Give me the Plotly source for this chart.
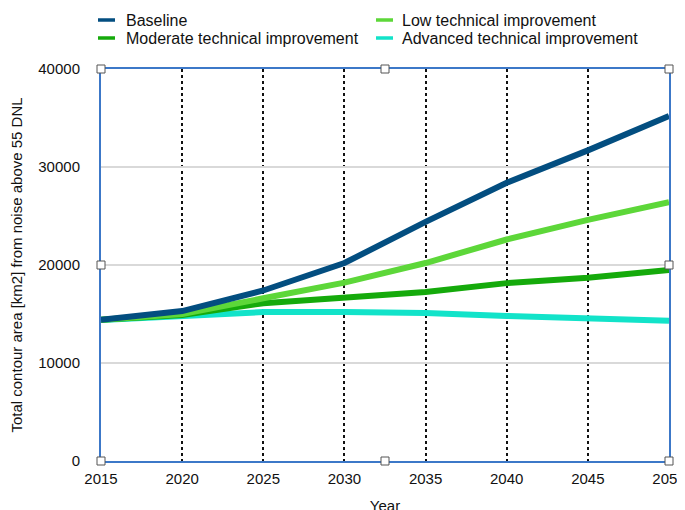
import plotly.graph_objects as go

years = [2015, 2020, 2025, 2030, 2035, 2040, 2045, 2050]
baseline = [14400, 15300, 17400, 20200, 24400, 28400, 31700, 35200]
low = [14400, 15000, 16600, 18200, 20200, 22600, 24600, 26400]
moderate = [14400, 14900, 16100, 16600, 17250, 18150, 18700, 19500]
advanced = [14400, 14800, 15200, 15200, 15100, 14800, 14600, 14300]

names = ["Baseline", "Low technical improvement",
         "Moderate technical improvement", "Advanced technical improvement"]
colors = ["#034e80", "#5dd739", "#15aa0b", "#12e3c9"]
series = [baseline, low, moderate, advanced]

x_ticks = [2015, 2020, 2025, 2030, 2035, 2040, 2045, 2050]
y_ticks = [0, 10000, 20000, 30000, 40000]

fig = go.Figure()
# draw bottom-most first
for i in [3, 2, 1, 0]:
    fig.add_trace(go.Scatter(x=years, y=series[i], mode="lines", name=names[i],
                             line=dict(color=colors[i], width=6), showlegend=False))

family = "Liberation Sans, Arial, Helvetica, sans-serif"
tick_font = dict(family=family, size=15, color="#111")
title_font = dict(family=family, size=15, color="#111")
leg_font = dict(family=family, size=16, color="#111")

shapes = []
annotations = []
# manual legend (2 columns x 2 rows)
leg_pos = [(0, 0), (1, 0), (0, 1), (1, 1)]
line_x = [98, 376]
text_x = [126, 402]
row_y = [20, 38]
PX0, PY0, W, H = 101, 461, 568, 392
for i, (c, r) in enumerate(leg_pos):
    y_paper = (PY0 - row_y[r]) / H
    shapes.append(dict(type="line", xref="paper", yref="paper",
                       x0=(line_x[c] - PX0) / W, x1=(line_x[c] + 17 - PX0) / W,
                       y0=y_paper, y1=y_paper,
                       line=dict(color=colors[i], width=3.5)))
    annotations.append(dict(text=names[i], xref="paper", yref="paper",
                            x=(text_x[c] - 2 - PX0) / W, y=y_paper, xanchor="left",
                            yanchor="middle", showarrow=False, font=leg_font))

# selection handles
for hx in [0, 0.5, 1]:
    for hy in [0, 0.5, 1]:
        if hx == 0.5 and hy == 0.5:
            continue
        shapes.append(dict(type="rect", xref="paper", yref="paper",
                           xsizemode="pixel", ysizemode="pixel",
                           xanchor=hx, yanchor=hy, x0=-4, x1=4, y0=-4, y1=4,
                           fillcolor="white", line=dict(color="#555", width=1),
                           layer="above"))

fig.update_layout(
    width=685, height=510,
    margin=dict(l=93, r=24, t=61, b=57),
    plot_bgcolor="white", paper_bgcolor="white",
    font=tick_font,
    shapes=shapes, annotations=annotations,
    showlegend=False,
    xaxis=dict(range=[2015, 2050], tickvals=x_ticks, ticktext=[str(v) for v in x_ticks],
               tickfont=tick_font, ticklabeloverflow="allow",
               showgrid=True, gridcolor="#111", gridwidth=2, griddash="dot",
               showline=True, linecolor="#3c78c8", linewidth=2, mirror=True,
               zeroline=False, ticks="", ticklabelstandoff=3,
               title=dict(text="Year", standoff=14, font=title_font), automargin=False),
    yaxis=dict(range=[0, 40000], tickvals=y_ticks, ticktext=[str(v) for v in y_ticks],
               tickfont=tick_font,
               showgrid=True, gridcolor="#d9d9d9", gridwidth=1.5,
               showline=True, linecolor="#3c78c8", linewidth=2, mirror=True,
               zeroline=False, ticks="", ticklabelstandoff=16,
               title=dict(text="Total contour area [km2] from noise above 55 DNL",
                          standoff=13, font=title_font), automargin=False),
)

fig.write_html("out.html")
